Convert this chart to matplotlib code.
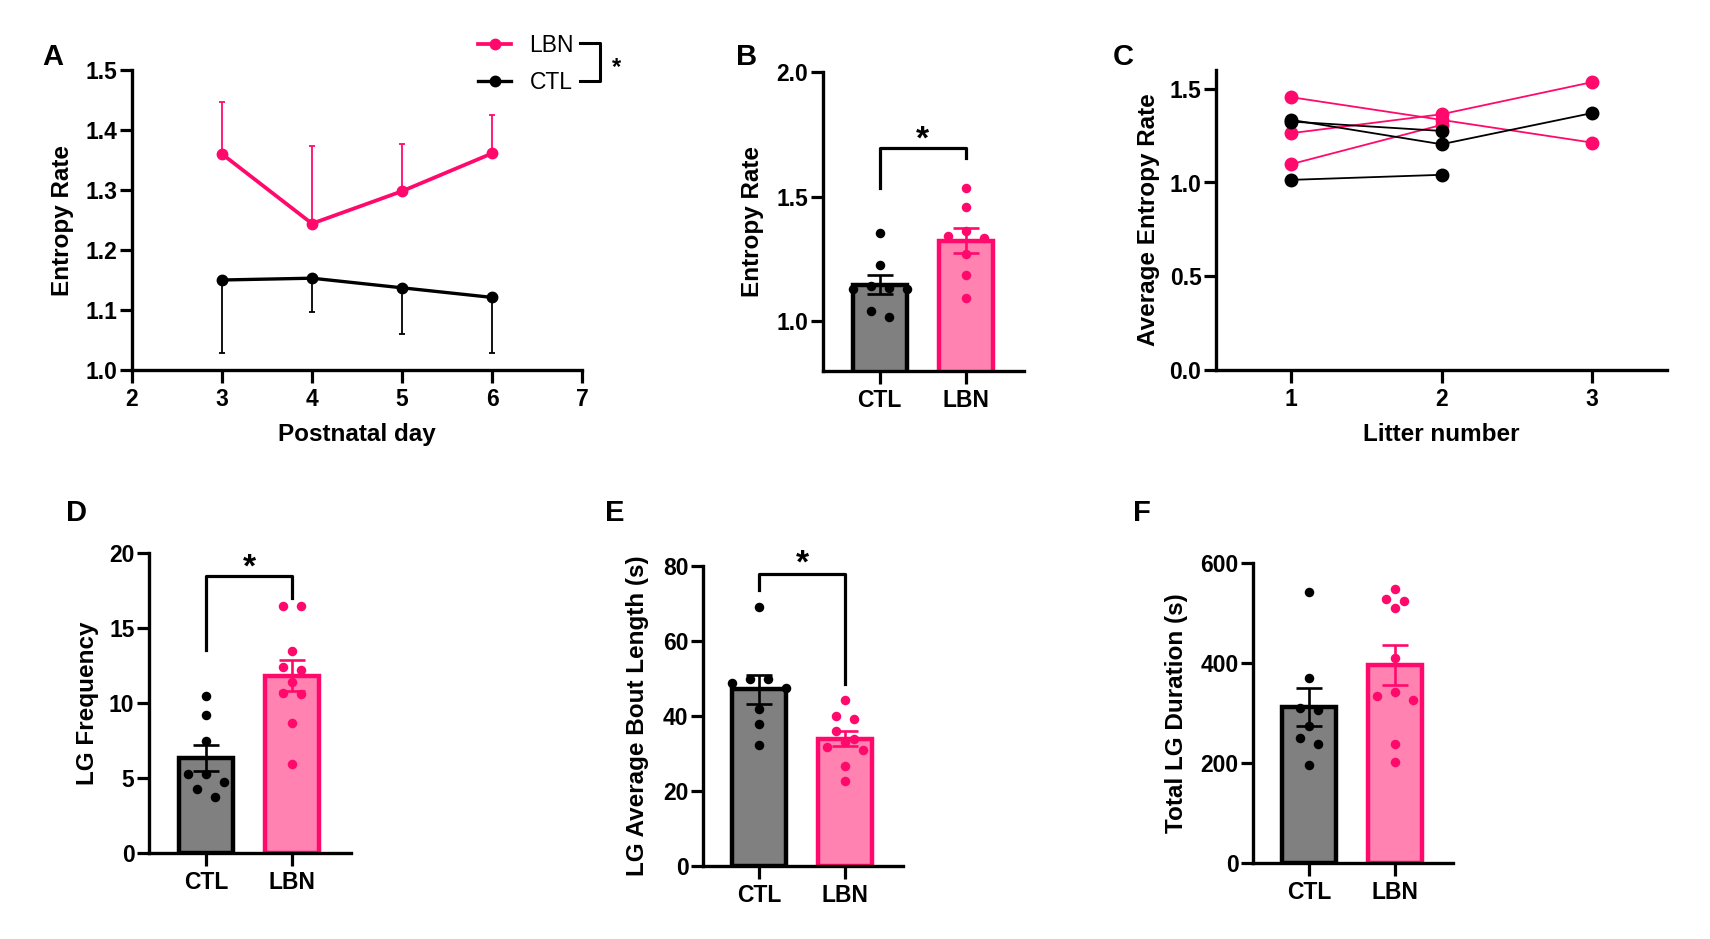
import numpy as np
import matplotlib
matplotlib.use("Agg")
import matplotlib.pyplot as plt
from matplotlib.lines import Line2D

plt.rcParams['font.family'] = ['Liberation Sans', 'DejaVu Sans']

PINK = '#FF0A6C'
PINK_FILL = '#FF82B0'
GRAY = '#808080'

# ---- panel A: entropy rate by postnatal day (mean + one-sided SEM)
days = [3, 4, 5, 6]
lbn_mean_a = [1.360, 1.244, 1.298, 1.361]
lbn_sem_a = [0.087, 0.130, 0.078, 0.064]
ctl_mean_a = [1.150, 1.153, 1.137, 1.121]
ctl_sem_a = [0.122, 0.057, 0.077, 0.093]

# ---- panel B: entropy rate per animal
ctl_b = [1.352, 1.227, 1.140, 1.135, 1.130, 1.128, 1.041, 1.015]
lbn_b = [1.536, 1.459, 1.363, 1.343, 1.334, 1.270, 1.186, 1.093]

# ---- panel C: average entropy rate per dam across litters
lbn_litters = [[1.455, 1.334, 1.213], [1.263, 1.364, 1.535], [1.098, 1.307]]
ctl_litters = [[1.334, 1.204, 1.370], [1.325, 1.275], [1.014, 1.041]]

# ---- panels D-F
ctl_d = [10.44, 9.18, 7.47, 5.29, 5.29, 4.73, 4.29, 3.73]
lbn_d = [16.44, 16.44, 13.44, 12.40, 12.18, 11.40, 10.69, 10.62, 8.67, 5.91]
ctl_e = [69.0, 49.9, 49.9, 48.7, 47.6, 42.0, 37.8, 32.3]
lbn_e = [44.3, 40.1, 39.1, 36.1, 34.0, 33.1, 31.8, 30.9, 26.7, 22.8]
ctl_f = [543, 371, 311, 306, 274, 251, 239, 196]
lbn_f = [548, 529, 525, 510, 411, 343, 335, 326, 239, 202]

groups = ['CTL', 'LBN']

W, H = 1710, 939
fig = plt.figure(figsize=(W / 100, H / 100), dpi=100)


def add_ax(left, top, right, bottom):
    return fig.add_axes([left / W, 1 - bottom / H, (right - left) / W, (bottom - top) / H])


def style(ax):
    for s in ['top', 'right']:
        ax.spines[s].set_visible(False)
    for s in ['left', 'bottom']:
        ax.spines[s].set_linewidth(2.4)
    ax.tick_params(width=2.3, length=9, labelsize=16.5)
    ax.tick_params(axis='y', pad=1.5)
    ax.tick_params(axis='x', pad=4)
    for lab in ax.get_xticklabels() + ax.get_yticklabels():
        lab.set_fontweight('bold')


def ylab(ax, text, xpix):
    ax.set_ylabel(text, fontsize=17.5, fontweight='bold', va='center')
    bb = ax.get_position()
    ax.yaxis.set_label_coords((xpix / W - bb.x0) / bb.width, 0.5)


def xlab(ax, text, ypix):
    ax.set_xlabel(text, fontsize=17.5, fontweight='bold', va='center')
    bb = ax.get_position()
    ax.xaxis.set_label_coords(0.5, ((1 - ypix / H) - bb.y0) / bb.height)


def star(ax, x, y, fs=24):
    ax.annotate('*', xy=(x, y), xytext=(0, -0.58 * fs), textcoords='offset points',
                ha='center', va='baseline', fontsize=fs, fontweight='bold',
                annotation_clip=False)


def swarm_offsets(ax, vals, step_px=18, thr_px=9):
    vals = np.asarray(vals, float)
    py = ax.transData.transform(np.column_stack([np.zeros_like(vals), vals]))[:, 1]
    xpx = ax.transData.transform([[1, 0]])[0, 0] - ax.transData.transform([[0, 0]])[0, 0]
    order = np.argsort(-vals, kind='stable')
    rows = []
    for i in order:
        if rows and py[rows[-1][0]] - py[i] < thr_px:
            rows[-1].append(i)
        else:
            rows.append([i])
    off = np.zeros(len(vals))
    for row in rows:
        n = len(row)
        slots = sorted([k - (n - 1) / 2 for k in range(n)], key=lambda s: (abs(s), s))
        for i, s in zip(row, slots):
            off[i] = s * step_px / xpx
    return off


def bar_panel(ax, ctl, lbn, ylim, yticks, ylabel, ylab_x, fmt='{:g}'):
    ax.set_xlim(-0.66, 1.68)
    ax.set_ylim(*ylim)
    data = [np.asarray(ctl, float), np.asarray(lbn, float)]
    means = [d.mean() for d in data]
    sems = [d.std(ddof=1) / np.sqrt(len(d)) for d in data]
    edges = ['black', PINK]
    fills = [GRAY, PINK_FILL]
    ax.bar([0, 1], means, width=0.63, color=fills, edgecolor=edges, linewidth=3.2, zorder=2)
    for i in range(2):
        ax.errorbar(i, means[i], yerr=sems[i], color=edges[i], capsize=9.7,
                    elinewidth=1.9, capthick=1.9, zorder=3)
        off = swarm_offsets(ax, data[i])
        ax.scatter(i + off, data[i], s=47, color=edges[i], zorder=4, linewidths=0)
    ax.set_xticks([0, 1])
    ax.set_xticklabels(groups)
    ax.set_yticks(yticks)
    ax.set_yticklabels([fmt.format(t) for t in yticks])
    style(ax)
    ylab(ax, ylabel, ylab_x)


# ---------------- A
axA = add_ax(132, 70, 582, 370)
axA.errorbar(days, lbn_mean_a, yerr=[[0] * 4, lbn_sem_a], fmt='none', ecolor=PINK,
             elinewidth=1.3, capsize=2.5, capthick=1.3, zorder=2)
axA.errorbar(days, ctl_mean_a, yerr=[ctl_sem_a, [0] * 4], fmt='none', ecolor='black',
             elinewidth=1.3, capsize=2.5, capthick=1.3, zorder=2)
lA1, = axA.plot(days, lbn_mean_a, '-o', color=PINK, lw=2.7, ms=7.5, label='LBN', zorder=3)
lA2, = axA.plot(days, ctl_mean_a, '-o', color='black', lw=2.4, ms=7.5, label='CTL', zorder=3)
axA.set_xlim(2, 7)
axA.set_ylim(1.0, 1.5)
axA.set_xticks(range(2, 8))
axA.set_yticks(np.arange(1.0, 1.51, 0.1))
axA.set_yticklabels(['{:.1f}'.format(t) for t in np.arange(1.0, 1.51, 0.1)])
style(axA)
ylab(axA, 'Entropy Rate', 62)
xlab(axA, 'Postnatal day', 435)
axA.legend(handles=[lA1, lA2], loc='upper left', bbox_to_anchor=(478 / W, 1 - 34 / H),
           bbox_transform=fig.transFigure, frameon=False, fontsize=16.5, borderpad=0,
           borderaxespad=0, handlelength=1.45, handletextpad=0.8, labelspacing=0.6)
bx = np.array([580, 600, 600, 580])
by = np.array([43, 43, 81, 81])
fig.add_artist(Line2D(bx / W, 1 - by / H, color='black', lw=2.2))
fig.text(616 / W, 1 - 68 / H, '*', fontsize=17, fontweight='bold', ha='center', va='center')

# ---------------- B
axB = add_ax(823, 72, 1024, 371)
bar_panel(axB, ctl_b, lbn_b, (0.8, 2.0), [1.0, 1.5, 2.0], 'Entropy Rate', 752, fmt='{:.1f}')
axB.plot([0, 0, 1, 1], [1.536, 1.696, 1.696, 1.656], color='black', lw=2.3, clip_on=False)
star(axB, 0.5, 1.772)

# ---------------- C
axC = add_ax(1216, 70, 1667, 370)
for dam in lbn_litters:
    axC.plot(range(1, len(dam) + 1), dam, '-o', color=PINK, lw=1.3, ms=9, zorder=2)
for dam in ctl_litters:
    axC.plot(range(1, len(dam) + 1), dam, '-o', color='black', lw=1.3, ms=9, zorder=3)
axC.set_xlim(0.5, 3.5)
axC.set_ylim(0, 1.6)
axC.set_xticks([1, 2, 3])
axC.set_yticks([0, 0.5, 1.0, 1.5])
axC.set_yticklabels(['0.0', '0.5', '1.0', '1.5'])
style(axC)
ylab(axC, 'Average Entropy Rate', 1148)
xlab(axC, 'Litter number', 435)

# ---------------- D
axD = add_ax(149, 553, 351, 853)
bar_panel(axD, ctl_d, lbn_d, (0, 20), [0, 5, 10, 15, 20], 'LG Frequency', 87)
axD.plot([0, 0, 1, 1], [13.56, 18.49, 18.49, 17.0], color='black', lw=2.3, clip_on=False)
star(axD, 0.5, 19.7)

# ---------------- E
axE = add_ax(703, 566, 903, 866)
bar_panel(axE, ctl_e, lbn_e, (0, 80), [0, 20, 40, 60, 80], 'LG Average Bout Length (s)', 637)
axE.plot([0, 0, 1, 1], [73.6, 77.9, 77.9, 48.5], color='black', lw=2.3, clip_on=False)
star(axE, 0.5, 83.5)

# ---------------- F
axF = add_ax(1253, 563, 1453, 863)
bar_panel(axF, ctl_f, lbn_f, (0, 600), [0, 200, 400, 600], 'Total LG Duration (s)', 1177)

# panel letters
for letter, (px, py) in {'A': (53, 57), 'B': (747, 57), 'C': (1123, 57),
                         'D': (76, 513), 'E': (615, 513), 'F': (1142, 513)}.items():
    fig.text(px / W, 1 - py / H, letter, fontsize=21, fontweight='bold', ha='center', va='center')

fig.savefig('out.png', dpi=100)
